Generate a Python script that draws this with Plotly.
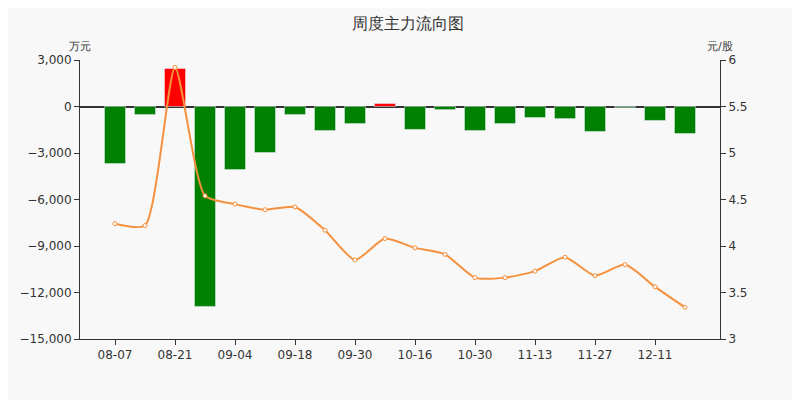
import plotly.graph_objects as go

dates = ["08-07","08-14","08-21","08-28","09-04","09-11","09-18","09-25","09-30","10-09",
         "10-16","10-23","10-30","11-06","11-13","11-20","11-27","12-04","12-11","12-18"]
flow = [-3680,-520,2450,-12900,-4070,-2970,-520,-1550,-1100,190,
        -1480,-200,-1550,-1100,-710,-780,-1610,-60,-900,-1740]
price = [4.24,4.22,5.92,4.54,4.45,4.39,4.42,4.17,3.85,4.08,
         3.98,3.91,3.66,3.66,3.73,3.88,3.68,3.80,3.56,3.34]
tickvals = ["08-07","08-21","09-04","09-18","09-30","10-16","10-30","11-13","11-27","12-11"]

colors = ["#ff0000" if v > 0 else "#008000" for v in flow]
fig = go.Figure()
fig.add_bar(x=dates, y=flow, marker_color=colors, width=0.7, yaxis="y")
fig.add_scatter(x=dates, y=price, yaxis="y2", mode="lines+markers",
                line=dict(color="#f5913e", width=2, shape="spline", smoothing=0.6),
                marker=dict(size=4, color="white", line=dict(color="#f5913e", width=1)))
f = dict(family="DejaVu Sans", size=12, color="#333")
fig.update_layout(
    width=800, height=400, paper_bgcolor="#f8f8f8", plot_bgcolor="#f8f8f8",
    showlegend=False, margin=dict(l=72, r=88, t=52, b=69), font=f,
    title=dict(text="周度主力流向图", x=0.5, y=0.975, xanchor="center", font=dict(size=16, color="#333")),
    xaxis=dict(type="category", tickmode="array", tickvals=tickvals, showgrid=False,
               showline=True, linecolor="#333", ticks="outside", ticklen=5, tickcolor="#333"),
    yaxis=dict(range=[-15000, 3000], tickvals=list(range(-15000, 3001, 3000)), tickformat=",",
               showgrid=False, zeroline=True, zerolinecolor="#333", showline=True, linecolor="#333",
               ticks="outside", ticklen=5, tickcolor="#333"),
    yaxis2=dict(range=[3, 6], dtick=0.5, overlaying="y", side="right", showgrid=False,
                showline=True, linecolor="#333", ticks="outside", ticklen=5, tickcolor="#333",
                zeroline=False),
    annotations=[
        dict(text="万元", x=0, y=1.08, xref="paper", yref="paper", showarrow=False, xanchor="center", font=dict(size=11)),
        dict(text="元/股", x=1, y=1.08, xref="paper", yref="paper", showarrow=False, xanchor="center", font=dict(size=11)),
    ],
)
fig.write_html("out.html")
